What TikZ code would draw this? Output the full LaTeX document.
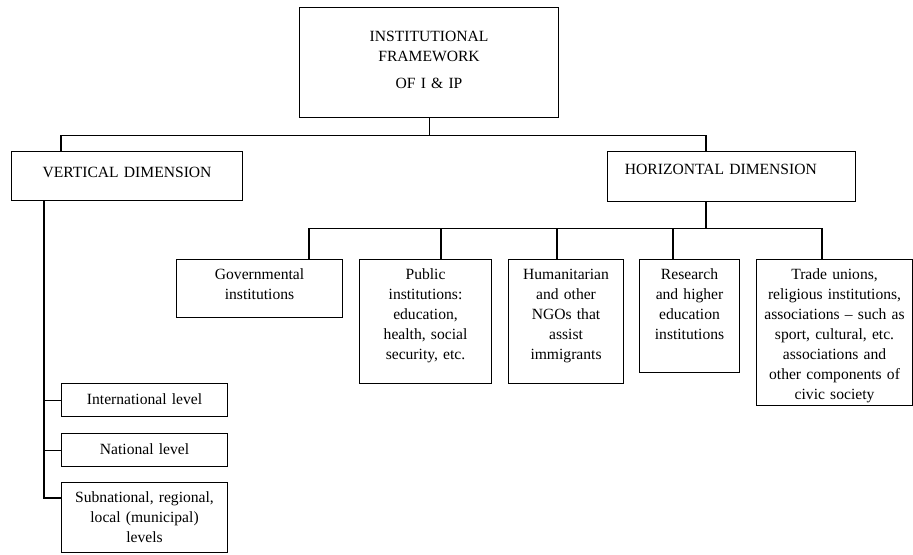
\documentclass[tikz,border=0pt]{standalone}
\usepackage{fontspec}
\setmainfont{Liberation Serif}
\usetikzlibrary{positioning, calc}
\newcommand{\px}{0.75pt}

\begin{document}
\begin{tikzpicture}[x=0.75pt, y=-0.75pt,
  cell/.style n args={3}{draw, line width=0.8pt, anchor=north west,
    align=center, inner xsep=3pt, inner ysep=0pt,
    /utils/exec={\pgfmathsetlengthmacro\cellw{#1*\px-8pt}},
    minimum width=#1*\px, text width=\cellw,
    text height=#3, text depth=#2*\px-#3,
    font=\fontsize{11.7}{15}\selectfont},
  link/.style={line width=0.8pt}]
  \useasboundingbox (0,0) rectangle (913,554);

  % Root
  \node[cell={259}{110}{25.5pt}] (root) at (299,7)
    {INSTITUTIONAL\\FRAMEWORK\\[5pt]OF I \& IP};

  % Dimensions
  \node[cell={231}{49}{19.5pt}] (vert) at (11,151) {VERTICAL DIMENSION};
  \node[cell={248}{50}{17.25pt}, align=left, inner xsep=10.5pt,
    text width=160pt] (horiz) at (607,151) {HORIZONTAL DIMENSION};

  % Horizontal groups
  \node[cell={166}{58}{15pt}] (gov) at (176,259) {Governmental\\institutions};
  \node[cell={132}{124}{15pt}] (pub) at (359,259)
    {Public\\institutions:\\education,\\health, social\\security, etc.};
  \node[cell={115}{124}{15pt}] (ngo) at (508,259)
    {Humanitarian\\and other\\NGOs that\\assist\\immigrants};
  \node[cell={100}{113}{15pt}] (res) at (639,259)
    {Research\\and higher\\education\\institutions};
  \node[cell={156}{146}{15pt}] (civ) at (756,259)
    {Trade unions,\\religious institutions,\\associations -- such as\\sport, cultural, etc.\\associations and\\other components of\\civic society};

  % Vertical levels
  \node[cell={166}{33}{15.75pt}] (intl) at (61,383) {International level};
  \node[cell={166}{33}{15.75pt}] (natl) at (61,433) {National level};
  \node[cell={166}{70}{15pt}] (sub) at (61,482)
    {Subnational, regional,\\local (municipal)\\levels};

  % Root to dimensions
  \draw[link] (root.south) -- ++(0,17) coordinate (top bus);
  \draw[link] ($(vert.north west)+(50,0)$) |- (top bus)
    -| ($(horiz.north west)+(99,0)$);

  % Vertical stem
  \draw[link] ($(vert.south west)+(33,0)$) coordinate (stem)
    |- ($(sub.north west)+(0,16)$);
  \draw[link] (intl.west) -- (intl.west -| stem);
  \draw[link] (natl.west) -- (natl.west -| stem);

  % Horizontal bus
  \draw[link] ($(horiz.south west)+(99,0)$) -- ++(0,26) coordinate (low bus);
  \foreach \n/\d in {gov/133, pub/82, ngo/49, res/34, civ/66}
    \draw[link] ($(\n.north west)+(\d,0)$) |- (low bus);
\end{tikzpicture}
\end{document}
